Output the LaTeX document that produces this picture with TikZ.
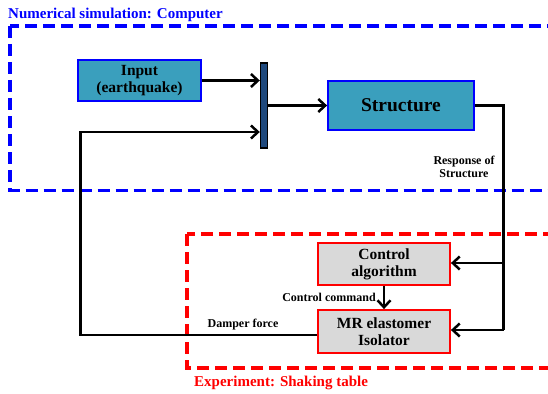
\documentclass[tikz,border=0pt]{standalone}
\usepackage{fontspec}
\setmainfont{Liberation Serif}
\usetikzlibrary{arrows.meta,positioning}
\definecolor{boxteal}{RGB}{58,159,189}
\definecolor{barblue}{RGB}{31,73,125}
\definecolor{boxgray}{RGB}{217,217,217}
\tikzset{
	simbox/.style={draw=blue, line width=1.8pt, fill=boxteal, align=center, inner sep=0pt, font=\fontsize{15.5}{17}\selectfont\bfseries},
	expbox/.style={draw=red, line width=1.8pt, fill=boxgray, align=center, inner sep=0pt, font=\fontsize{15.5}{17}\selectfont\bfseries},
	link/.style={line width=2.8pt, -{Straight Barb[length=7pt,width=13pt,line width=2.5pt]}},
	plain/.style={line width=2.8pt},
	lbl/.style={font=\fontsize{12}{13.5}\selectfont\bfseries, align=center, inner sep=0pt},
	zone/.style={line width=3.2pt, dash pattern=on 12pt off 6pt},
	zonetitle/.style={anchor=west, font=\fontsize{15}{17}\selectfont\bfseries, inner sep=0pt}
}

\begin{document}
\begin{tikzpicture}[x=1pt,y=-1pt]
	\useasboundingbox (0,0) rectangle (548,393);
	\clip (0,0) rectangle (548,393);

	% zones
	\draw [zone, blue] (10,26) rectangle (570,190.5);
	\draw [zone, red] (187,234) rectangle (570,368);
	\node (simtitle) [zonetitle, blue] at (8,14.5) {Numerical simulation: Computer};
	\node (exptitle) [zonetitle, red] at (194,382.5) {Experiment: Shaking table};

	% blocks
	\node (input) [simbox, minimum width=123pt, minimum height=41pt] at (139.5,80.5) {Input\\(earthquake)};
	\node (sum) [draw=black, line width=1.4pt, fill=barblue, minimum width=7pt, minimum height=85pt, inner sep=0pt] at (264,105.5) {};
	\node (struct) [simbox, minimum width=146pt, minimum height=49pt, font=\fontsize{19.5}{21}\selectfont\bfseries] at (401,105.5) {Structure};
	\node (ctrl) [expbox, minimum width=132pt, minimum height=42pt] at (384,264) {Control\\algorithm};
	\node (mre) [expbox, minimum width=132pt, minimum height=43pt] at (384,331.5) {MR elastomer\\Isolator};

	% labels
	\node (resp) [lbl] at (464,167) {Response of\\Structure};
	\node (cmd) [lbl] at (329,297) {Control command};
	\node (force) [lbl] at (243,325) {Damper force};

	\coordinate (fbdown) at (80.5,335);
	\coordinate (fbup) at (80.5,132);
	\coordinate (rtop) at (503.5,105.5);
	\coordinate (rmid) at (503.5,263);
	\coordinate (rbot) at (503.5,330);

	% connectors
	\draw [link] (input.east) -- (input.east -| sum.west);
	\draw [link] (sum.east) -- (struct.west);
	\draw [plain] (struct.east) -- (rtop) -- (rbot);
	\draw [link] (rmid) -- (rmid -| ctrl.east);
	\draw [link] (rbot) -- (rbot -| mre.east);
	\draw [link] (ctrl.south) -- (mre.north);
	\draw [link] (fbdown -| mre.west) -- (fbdown) -- (fbup) -- (fbup -| sum.west);

\end{tikzpicture}
\end{document}
